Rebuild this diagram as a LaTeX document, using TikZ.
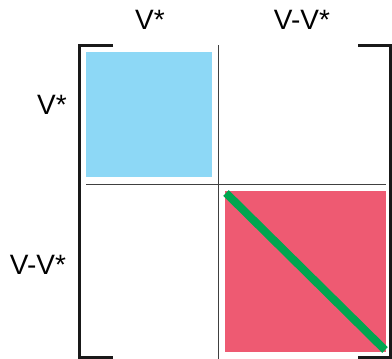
\documentclass[tikz,border=0pt]{standalone}
\usepackage{fontspec}
\setmainfont{Liberation Sans}
\definecolor{cblue}{HTML}{8DD8F6}
\definecolor{cred}{HTML}{EE5A72}
\definecolor{cgreen}{HTML}{00A650}
\begin{document}
\begin{tikzpicture}[x=1pt,y=-1pt,
  lbl/.style={font=\fontsize{28}{30}\selectfont, inner sep=0pt},
  brk/.style={line width=3pt, black!90},
  thin/.style={line width=0.9pt, black!75}]
\useasboundingbox (0,0) rectangle (392,359);
% blocks
\fill[cblue] (86,52) rectangle (212,177);
\fill[cred] (225,191) rectangle (386,352);
% grid lines
\draw[thin] (218,45) -- (218,359);
\draw[thin] (86,184.5) -- (386,184.5);
% diagonal
\coordinate (d1) at (226,193);
\coordinate (d2) at (385,350);
\draw[cgreen, line width=8pt] (d1) -- (d2);
% brackets
\draw[brk] (113,45) -- (79,45) -- (79,357) -- (113,357);
\draw[brk] (358,45) -- (390,45) -- (390,357) -- (358,357);
% labels
\node[lbl] (c1) at (150,20) {V*};
\node[lbl] (c2) at (302,20) {V-V*};
\node[lbl] (r1) at (52,105) {V*};
\node[lbl] (r2) at (38,265) {V-V*};
\end{tikzpicture}
\end{document}
